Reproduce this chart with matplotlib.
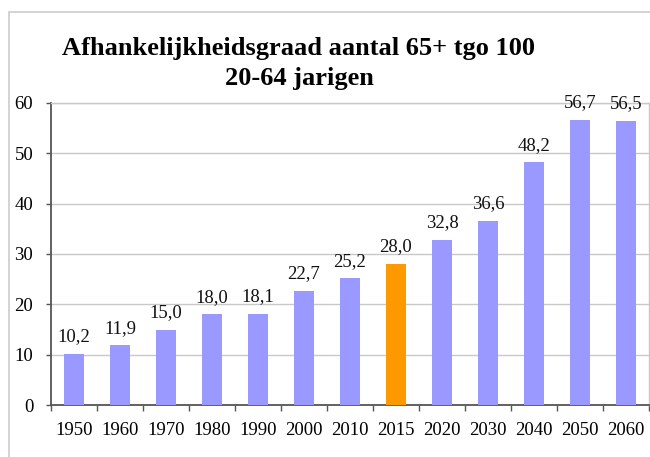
import matplotlib
matplotlib.use("Agg")
import matplotlib.pyplot as plt
from matplotlib.patches import Rectangle
import numpy as np

years = ["1950", "1960", "1970", "1980", "1990", "2000", "2010", "2015",
         "2020", "2030", "2040", "2050", "2060"]
values = [10.2, 11.9, 15.0, 18.0, 18.1, 22.7, 25.2, 28.0, 32.8, 36.6, 48.2, 56.7, 56.5]
highlight = "2015"
title_lines = ["Afhankelijkheidsgraad aantal 65+ tgo 100", "20-64 jarigen"]

plt.rcParams['font.family'] = ['Liberation Serif', 'DejaVu Serif']

W, H = 650, 457
fig = plt.figure(figsize=(W / 100, H / 100), dpi=100)
fig.patch.set_facecolor("white")

# outer chart border (cropped at right and bottom)
fig.add_artist(Rectangle((8.5 / W, -0.1), 1.2, 1.1 - 12.5 / H, transform=fig.transFigure,
                         fill=False, edgecolor="#d0d0d0", linewidth=1.3))

ax = fig.add_axes([51 / W, (H - 405) / H, (649 - 51) / W, (405 - 103) / H])
x = np.arange(len(years))
colors = ["#FF9900" if y == highlight else "#9999FF" for y in years]
ax.bar(x, values, width=0.43, color=colors, zorder=3)

for xi, v in zip(x, values):
    ax.annotate(f"{v:.1f}".replace(".", ","), (xi, v), xytext=(0, 9),
                textcoords="offset points", ha="center", va="baseline",
                fontsize=13.5, color="#111111")

ax.set_xlim(-0.5, len(years) - 0.5)
ax.set_ylim(0, 60)
ax.set_yticks(np.arange(0, 61, 10))
ax.set_yticklabels([str(v) for v in range(0, 61, 10)], fontsize=13.5)
ax.yaxis.grid(True, color="#c8c8c8", linewidth=1.0, zorder=0)
ax.set_axisbelow(True)

ax.set_xticks(x)
ax.set_xticklabels(years, fontsize=13.5)
ax.set_xticks(np.arange(-0.5, len(years), 1), minor=True)
ax.tick_params(axis="x", which="major", length=0, pad=12)
ax.tick_params(axis="x", which="minor", length=4.5, direction="out", color="#555555", width=1)
ax.tick_params(axis="y", length=3.8, direction="out", color="#555555", width=1, pad=9)

for s in ["left", "bottom"]:
    ax.spines[s].set_color("#555555")
    ax.spines[s].set_linewidth(1.3)
for s in ["top", "right"]:
    ax.spines[s].set_color("#c8c8c8")
    ax.spines[s].set_linewidth(1.0)

fig.text(299 / W, 1 - 55 / H, title_lines[0], ha="center", va="baseline",
         fontsize=19, fontweight="bold")
fig.text(299 / W, 1 - 85 / H, title_lines[1], ha="center", va="baseline",
         fontsize=19, fontweight="bold")

fig.savefig("out.png", dpi=100)
